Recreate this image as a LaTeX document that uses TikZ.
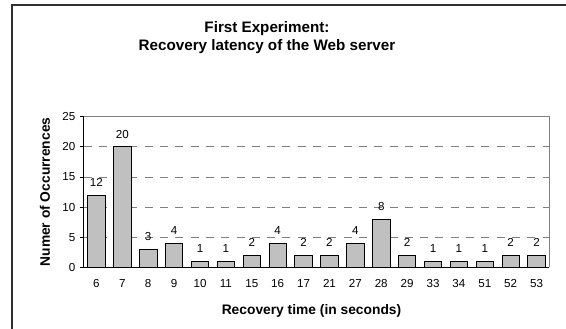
\documentclass[tikz,border=0pt]{standalone}
\usepackage{fontspec}
\setmainfont{Liberation Sans}
\definecolor{barfill}{HTML}{C0C0C0}
\definecolor{gridgray}{HTML}{808080}
\definecolor{framecol}{HTML}{303030}
\begin{document}
\begin{tikzpicture}[x=1pt,y=-1pt,
  barbox/.style={draw=black, fill=barfill, line width=0.8pt},
  gridline/.style={draw=gridgray, line width=0.8pt, dash pattern=on 8pt off 7.3pt},
  plotborder/.style={draw=gridgray, line width=0.8pt},
  axisline/.style={draw=black, line width=0.8pt},
  framebox/.style={draw=framecol, line width=1.4pt},
  lbl/.style={font=\fontsize{11.6}{13}\selectfont, inner sep=0pt},
  ylbl/.style={font=\fontsize{11.6}{13}\selectfont, inner sep=0pt, anchor=east},
  titlefont/.style={font=\fontsize{15.2}{17}\selectfont\bfseries, inner sep=0pt, anchor=base},
  axistitle/.style={font=\fontsize{13.8}{16}\selectfont\bfseries, inner sep=0pt}]
\useasboundingbox (0,0) rectangle (566,329);
% outer frame (only left and top edges are visible)
\coordinate (fbl) at (12,335);
\coordinate (ftl) at (12,5);
\coordinate (ftr) at (572,5);
\draw[framebox] (fbl) -- (ftl) -- (ftr);
% plot area corners
\coordinate (pbl) at (83.5,267.3);
\coordinate (ptl) at (83.5,116.7);
\coordinate (ptr) at (549.3,116.7);
\coordinate (pbr) at (549.3,267.3);
% gridlines
\foreach \v in {5,10,15,20} {
  \pgfmathsetmacro\gy{267.3-6.024*\v}
  \coordinate (gl\v) at (83.5,\gy);
  \coordinate (gr\v) at (549.3,\gy);
  \draw[gridline] (gl\v) -- (gr\v);
}
\draw[plotborder] (ptl) -- (ptr) -- (pbr);
% bars and labels
\foreach \lab/\val [count=\i from 0] in {6/12,7/20,8/3,9/4,10/1,11/1,15/2,16/4,17/2,21/2,27/4,28/8,29/2,33/1,34/1,51/1,52/2,53/2} {
  \pgfmathsetmacro\cx{83.5+25.89*(\i+0.5)}
  \pgfmathsetmacro\ty{267.3-6.024*\val}
  \draw[barbox] (\cx-8.75,267.3) rectangle (\cx+8.75,\ty);
  \node[lbl, anchor=base] (v\i) at (\cx,\ty-8.5) {\val};
  \node[lbl, anchor=base] (t\i) at (\cx,287.5) {\lab};
}
% axes
\draw[axisline] (ptl) -- (pbl) -- (pbr);
\foreach \v in {0,5,10,15,20,25} {
  \pgfmathsetmacro\gy{267.3-6.024*\v}
  \coordinate (tk\v) at (79.5,\gy);
  \coordinate (ta\v) at (83.5,\gy);
  \draw[axisline] (tk\v) -- (ta\v);
  \node[ylbl] (yl\v) at (75.5,\gy) {\v};
}
% titles
\node[titlefont] (title1) at (267,33) {First Experiment:};
\node[titlefont] (title2) at (267,50.5) {Recovery latency of the Web server};
\node[axistitle, rotate=90] (ytitle) at (45,192) {Numer of Occurrences};
\node[axistitle, anchor=base] (xtitle) at (311.5,314) {Recovery time (in seconds)};
\end{tikzpicture}
\end{document}
